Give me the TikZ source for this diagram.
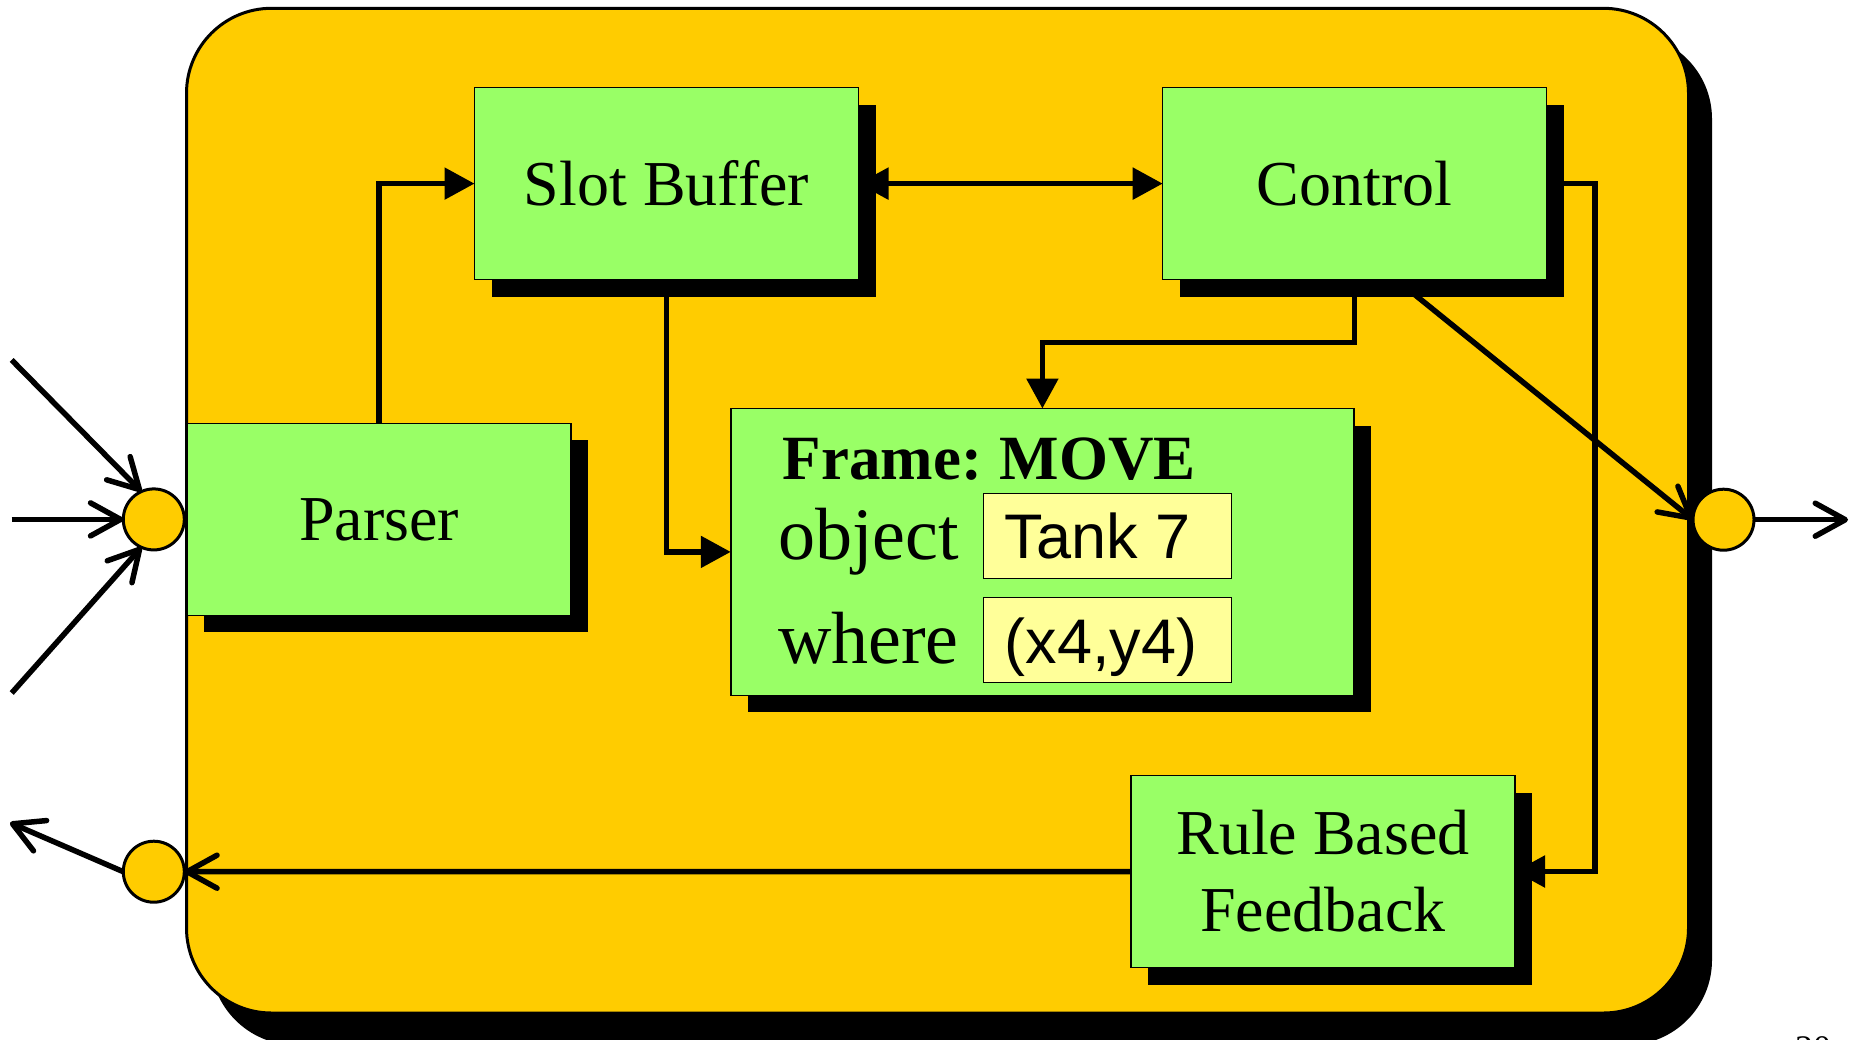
\documentclass[tikz,border=0pt]{standalone}
\usepackage{fontspec}
\setmainfont{Liberation Serif}
\newfontfamily\arialf{Liberation Sans}
\usetikzlibrary{arrows.meta,calc}
\pgfdeclarelayer{back}
\pgfdeclarelayer{bg}
\pgfdeclarelayer{shad}
\pgfsetlayers{back,bg,shad,main}
\definecolor{mainyel}{HTML}{FFCC00}
\definecolor{boxgreen}{HTML}{99FF66}
\definecolor{valyel}{HTML}{FFFF99}
\begin{document}
\begin{tikzpicture}[x=1pt,y=-1pt,
  blk/.style={draw=black, line width=1.5pt, fill=boxgreen, inner sep=0pt, outer sep=0pt,
    minimum width=384pt, minimum height=192pt, align=center,
    font=\fontsize{64}{77}\selectfont},
  valbox/.style={draw=black, line width=1.5pt, fill=valyel, inner sep=0pt, outer sep=0pt,
    minimum width=248pt, minimum height=85pt},
  txt/.style={anchor=base west, inner sep=0pt, outer sep=0pt},
  circ/.style={circle, draw=black, line width=3pt, fill=mainyel, minimum size=61pt,
    inner sep=0pt, outer sep=0pt},
  conn/.style={line width=5.5pt},
  tri/.style={-{Triangle[length=30pt,width=31pt]}},
  tritri/.style={{Triangle[length=30pt,width=31pt]}-{Triangle[length=30pt,width=31pt]}},
  barb/.style={-{Straight Barb[length=30pt,width=33pt,round]}}
]
\useasboundingbox (0,0) rectangle (1851,1039);

% main panel
\begin{pgfonlayer}{back}
  \fill[black, rounded corners=85pt] (210.5,34) rectangle (1712,1045);
  \filldraw[fill=mainyel, draw=black, line width=3pt, rounded corners=85pt]
    (186.5,8.3) rectangle (1688.5,1013);
\end{pgfonlayer}

% blocks
\node[blk] (slot) at (666.5,183.6) {Slot Buffer};
\node[blk] (ctl) at (1354.7,183.6) {Control};
\node[blk] (parser) at (379,519.4) {Parser};
\node[blk, minimum width=623.3pt, minimum height=286.8pt] (frame) at (1042.4,551.9) {};
\node[blk] (rule) at (1323,871.5) {Rule Based\\Feedback};

% frame contents
\node[txt, font=\fontsize{63}{63}\selectfont\bfseries] (ftitle) at (782.7,479.3) {Frame:\hspace{-0.05em} MOVE};
\node[txt, font=\fontsize{74}{74}\selectfont] (fobj) at (778,559) {object};
\node[txt, font=\fontsize{74}{74}\selectfont] (fwhere) at (778,663.3) {where};
\node[valbox] (vtank) at (1107.4,535.9) {};
\node[valbox] (vpos) at (1107.4,639.8) {};
\node[txt, font=\arialf\fontsize{63}{63}\selectfont] (ttank) at (1004.6,558.3) {Tank 7};
\node[txt, font=\arialf\fontsize{63}{63}\selectfont] (tpos) at (1004.6,663.3) {(x4,y4)};

% shadows
\begin{pgfonlayer}{shad}
  \foreach \n in {slot,ctl,parser,frame,rule}
    \fill[black] ([shift={(17,17)}]\n.north west) rectangle ([shift={(17,17)}]\n.south east);
\end{pgfonlayer}

% circles
\node[circ] (li) at (153.8,519.4) {};
\node[circ] (ro) at (1723.5,519.7) {};
\node[circ] (lc) at (153.8,871.7) {};

% free ends
\coordinate (in1) at (11.7,360);
\coordinate (in2) at (11.7,519.4);
\coordinate (in3) at (11.7,693);
\coordinate (outR) at (1848,519.7);
\coordinate (outL) at (10,822.7);
\coordinate (kc) at (1042.4,342.3);
\coordinate (kr) at (1595,183.6);
\coordinate (dstart) at ($(ctl.south west)!0.608!(ctl.south east)$);

% connectors
\begin{pgfonlayer}{bg}
  \draw[conn, tri] (parser.north) |- (slot.west);
  \draw[conn, tritri] (slot.east) -- (ctl.west);
  \draw[conn, tri] (slot.south) |- (frame.west);
  \draw[conn, tri] (ctl.south) |- (kc) -- (frame.north);
  \draw[conn, tri] (ctl.east) -- (kr) |- (rule.east);
  \draw[conn, barb] (dstart) -- (ro.west);
  \draw[conn, barb] (rule.west) -- (lc.east);
\end{pgfonlayer}
\draw[conn, barb] (in1) -- (li.114);
\draw[conn, barb] (in2) -- (li.west);
\draw[conn, barb] (in3) -- (li.246);
\draw[conn, barb] (ro.east) -- (outR);
\draw[conn, barb] (lc.west) -- (outL);

% page number (cut off at the bottom edge, as in the reference)
\node[txt, font=\fontsize{36}{36}\selectfont] (pg) at (1795,1060) {20};
\end{tikzpicture}
\end{document}
